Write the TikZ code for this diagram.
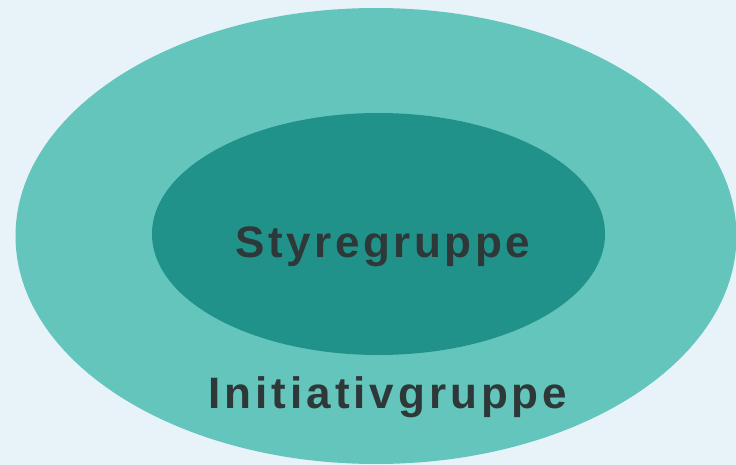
\documentclass[tikz,border=0pt]{standalone}
\usepackage{fontspec}
\setmainfont{Liberation Sans}
\newfontfamily\labfont[LetterSpace=8]{Liberation Sans Bold}
\newfontfamily\labfontw[LetterSpace=9]{Liberation Sans Bold}
\definecolor{bgc}{HTML}{E8F3F9}
\definecolor{outerc}{HTML}{64C5BD}
\definecolor{innerc}{HTML}{20928A}
\definecolor{txtc}{HTML}{2F3838}
\tikzset{lab/.style={font=\labfont\fontsize{44}{48}\selectfont, text=txtc, anchor=base, inner sep=0pt},
labw/.style={lab, font=\labfontw\fontsize{44}{48}\selectfont}}
\begin{document}
\begin{tikzpicture}[x=1pt,y=-1pt]
\fill[bgc] (0,0) rectangle (736,465);
\useasboundingbox (0,0) rectangle (736,465);
\begin{scope}
\clip (0,0) rectangle (736,465);
\fill[outerc] (376,236) ellipse [x radius=360.5, y radius=228];
\fill[innerc] (378.5,234) ellipse [x radius=226.5, y radius=121];
\end{scope}
\node[lab] (styre) at (383,258) {Styregruppe};
\node[labw] (init) at (388,408) {Initiativgruppe};
\end{tikzpicture}
\end{document}
